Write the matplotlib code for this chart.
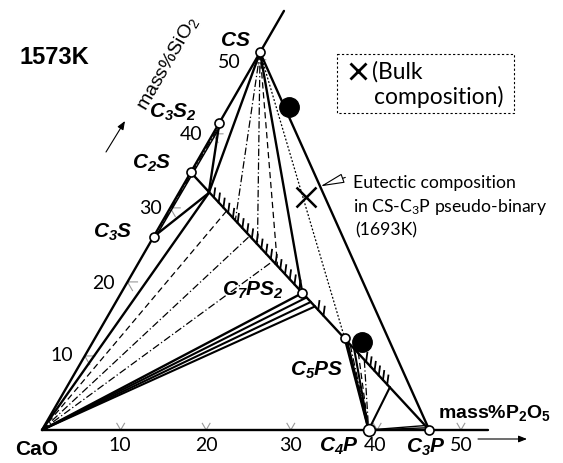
import numpy as np
import matplotlib
matplotlib.use("Agg")
import matplotlib.pyplot as plt
from matplotlib.patches import Rectangle

plt.rcParams['mathtext.fontset'] = 'custom'
plt.rcParams['mathtext.it'] = 'Liberation Sans:italic:bold'
plt.rcParams['mathtext.rm'] = 'Liberation Sans:italic:bold'
plt.rcParams['mathtext.bf'] = 'Liberation Sans:bold'
plt.rcParams['mathtext.tt'] = 'Liberation Sans'
plt.rcParams['mathtext.sf'] = 'Lato'

# ---------------- data: compositions (mass% P2O5, mass% SiO2) ----------------
compound_names = ['CaO', 'C3S', 'C2S', 'C3S2', 'CS', 'C7PS2', 'C5PS', 'C4P', 'C3P']
compound_P = [0.0, 0.0, 0.0, 0.0, 0.0, 21.2, 29.2, 38.2, 45.3]
compound_S = [0.0, 26.1, 34.8, 41.5, 51.0, 18.5, 12.4, 0.0, 0.0]
open_circles = ['C3S', 'C2S', 'C3S2', 'CS', 'C7PS2', 'C5PS', 'C4P', 'C3P']

# invariant point on the C2S-C3P solid solution line
A_point = (3.5, 32.0)

# tie lines: CS -> solid solution (P, S end points)
cs_tie_P = [8.5, 12.7, 16.5]
cs_tie_S = [28.2, 25.0, 22.1]
cs_tie_style = ['dashdot', 'dashdot', 'dashed']

# tie lines: CaO -> solid solution
cao_tie_P = [6.8, 11.2, 15.6]
cao_tie_S = [29.6, 26.2, 22.8]
cao_tie_style = ['dashed', 'dashdot', 'dashdot']

# bundle CaO -> just below C7PS2
bundle_P = [22.0, 22.8, 23.6]
bundle_S = [17.9, 17.3, 16.7]

# C4P fan -> solid solution
c4p_fan_P = [29.7, 30.3, 31.0, 31.8, 33.0, 37.8]
c4p_fan_S = [12.0, 11.5, 11.0, 10.4, 9.4, 5.8]
c4p_fan_style = ['solid', 'dashdot', 'solid', 'dashed', 'dashdot', 'solid']

# thin C4P -> near C3P wedge
wedge_P = [44.9, 44.5]
wedge_S = [0.3, 0.6]

# hatch ranges on the solid solution line (P start, P end, count)
hatch_ranges = [(4.4, 20.6, 19), (24.2, 25.2, 2), (33.3, 37.3, 6)]

# special points
bulk_comp = (15.1, 31.5)
dots_P = [7.1, 31.5]
dots_S = [43.6, 11.9]
eutectic = (16.1, 32.9)

# axis ticks
sio2_ticks = [10, 20, 30, 40, 50]
p2o5_tick_pos = [9.2, 19.2, 29.1, 39.2, 49.0]
p2o5_tick_labels = ['10', '20', '30', '40', '50']
sio2_axis_end = 56.6
p2o5_axis_end = 52.2

# ---------------- geometry ----------------
K = 8.55
X0, Y0 = 42.0, 431.0
R3 = np.sqrt(3) / 2


def tern(P, S):
    P = np.asarray(P, float)
    S = np.asarray(S, float)
    return X0 + K * (P + S / 2.0), Y0 - K * S * R3


comp = {n: (p, s) for n, p, s in zip(compound_names, compound_P, compound_S)}

fig = plt.figure(figsize=(5.63, 4.64), dpi=100)
ax = fig.add_axes([0, 0, 1, 1])
ax.set_xlim(0, 563)
ax.set_ylim(464, 0)
ax.axis('off')

LW = 1.7
TH = 0.9


def seg(p1, p2, ls='solid', lw=LW, color='black', z=2):
    x, y = tern([p1[0], p2[0]], [p1[1], p2[1]])
    ax.plot(x, y, color=color, lw=lw, ls=ls, zorder=z, solid_capstyle='round')


dash_map = {'dashdot': (0, (6, 2, 1, 2)), 'dashed': (0, (5, 3)), 'solid': 'solid', 'dotted': (0, (1.5, 1.5))}

# axes lines
seg((0, 0), (0, sio2_axis_end))
seg((0, 0), (p2o5_axis_end, 0))

# CS - C3P
seg(comp['CS'], comp['C3P'])
# solid solution line C2S - C3P
seg(comp['C2S'], comp['C3P'])
# lines to A
seg(comp['C3S2'], A_point)
seg(comp['C3S'], A_point)
seg(comp['CS'], A_point)
seg(comp['CaO'], A_point)
seg(comp['CS'], comp['C7PS2'])
seg(comp['CaO'], comp['C7PS2'])
# thin lines along the C3S2 - C3S edge
seg((0.35, 41.3), (0.25, 26.3), lw=1.1)
seg((0.2, 40.5), (0.15, 27.5), ls=dash_map['dashdot'], lw=TH)

# CS tie lines
for p, s, st in zip(cs_tie_P, cs_tie_S, cs_tie_style):
    seg(comp['CS'], (p, s), ls=dash_map[st], lw=TH)
# CS - C5PS dotted
seg(comp['CS'], comp['C5PS'], ls=dash_map['dotted'], lw=TH)

# CaO tie lines
for p, s, st in zip(cao_tie_P, cao_tie_S, cao_tie_style):
    seg(comp['CaO'], (p, s), ls=dash_map[st], lw=TH)
for p, s in zip(bundle_P, bundle_S):
    seg(comp['CaO'], (p, s), lw=1.5)

# C4P fan
seg(comp['C5PS'], comp['C4P'])
for p, s, st in zip(c4p_fan_P, c4p_fan_S, c4p_fan_style):
    seg((p, s), comp['C4P'], ls=dash_map[st], lw=(1.5 if st == 'solid' else TH))
for p, s in zip(wedge_P, wedge_S):
    seg(comp['C4P'], (p, s), lw=1.0)

# hatching on the solid solution line
c2s, c3p = comp['C2S'], comp['C3P']
for p0, p1, n in hatch_ranges:
    for p in np.linspace(p0, p1, n):
        s = c2s[1] * (1 - p / c3p[0])
        x, y = tern(p, s)
        ax.plot([x, x + 1.2], [y, y - 9.0], color='black', lw=1.3, zorder=2)

# axis tick marks (ternary grid stubs)
tick_len = 1.17
for s in sio2_ticks:
    x0, y0 = tern(0, s)
    x1, y1 = tern(tick_len, s)
    x2, y2 = tern(tick_len, s - tick_len)
    ax.plot([x1, x0, x2], [y1, y0, y2], color='#999999', lw=0.8, zorder=1)
for p in p2o5_tick_pos:
    x0, y0 = tern(p, 0)
    x1, y1 = tern(p, 0.9)
    x2, y2 = tern(p - 0.9, 0.9)
    ax.plot([x1, x0, x2], [y1, y0, y2], color='#999999', lw=0.8, zorder=1)

# open circles for compounds
for n in open_circles:
    x, y = tern(*comp[n])
    ms = 8.5 if n == 'C4P' else 6.5
    ax.plot(x, y, 'o', ms=ms, mfc='white', mec='black', mew=1.2, zorder=5)

# black dots
dx, dy = tern(dots_P, dots_S)
ax.plot(dx, dy, 'o', ms=14, color='black', zorder=5)

# bulk composition cross
bx, by = tern(*bulk_comp)
ax.plot(bx, by, 'x', ms=14, mew=1.8, color='black', zorder=5)

# eutectic arrow
ex, ey = tern(*eutectic)
ax.annotate('', xy=(ex, ey), xytext=(ex + 25, ey - 9),
            arrowprops=dict(arrowstyle='-|>,head_length=1.5,head_width=0.3',
                            fc='white', ec='black', lw=0.8, shrinkA=0, shrinkB=0),
            zorder=6)

# ---------------- text ----------------
lab_font = 'Lato'
ax.text(54, 57, '1573K', fontsize=17, fontweight='bold', family='Liberation Sans',
        ha='center', va='center')
ax.text(168, 63, r'$\mathtt{mass\%SiO_2}$', fontsize=14, rotation=60,
        ha='center', va='center')
ax.annotate('', xy=(125, 122), xytext=(106, 153),
            arrowprops=dict(arrowstyle='-|>,head_length=0.5,head_width=0.2',
                            fc='black', lw=0.8, shrinkA=0, shrinkB=0))
ax.text(495, 413, r'$\mathbf{mass\%P_2O_5}$', fontsize=14, ha='center', va='center')
ax.annotate('', xy=(527, 440), xytext=(478, 440),
            arrowprops=dict(arrowstyle='-|>,head_length=0.5,head_width=0.2',
                            fc='black', lw=0.8, shrinkA=0, shrinkB=0))
ax.text(37, 450, 'CaO', fontsize=15, fontweight='bold', family='Liberation Sans',
        ha='center', va='center')

comp_labels = {
    'CS': (235, 40, r'$CS$'),
    'C3S2': (173, 112, r'$C_3S_2$'),
    'C2S': (152, 163, r'$C_2S$'),
    'C3S': (113, 232, r'$C_3S$'),
    'C7PS2': (253, 290, r'$C_7PS_2$'),
    'C5PS': (317, 370, r'$C_5PS$'),
    'C4P': (339, 446, r'$C_4P$'),
    'C3P': (426, 447, r'$C_3P$'),
}
for k, (x, y, t) in comp_labels.items():
    ax.text(x, y, t, fontsize=15, ha='center', va='center')

# SiO2 tick labels
sio2_label_pos = [(62, 356), (103, 284), (150, 209), (191, 135), (229, 62)]
for s, (x, y) in zip(sio2_ticks, sio2_label_pos):
    ax.text(x, y, str(s), fontsize=14, family=lab_font, ha='center', va='center')
p2o5_label_x = [120, 206, 290, 375, 461]
for t, x in zip(p2o5_tick_labels, p2o5_label_x):
    ax.text(x, 446, t, fontsize=14, family=lab_font, ha='center', va='center')

# legend box
ax.add_patch(Rectangle((337, 55), 177, 59, fill=False, ls=(0, (2, 2)), lw=0.8, ec='black'))
ax.plot(358, 72, 'x', ms=11, mew=2, color='black')
ax.text(372, 72, '(Bulk', fontsize=16.5, family=lab_font, ha='left', va='center')
ax.text(374, 97, 'composition)', fontsize=16.5, family=lab_font, ha='left', va='center')

# eutectic text
ax.text(353, 183, 'Eutectic composition', fontsize=12.7, family=lab_font, ha='left', va='center')
ax.text(353, 207, r'in CS-C$\mathsf{_3}$P pseudo-binary', fontsize=12.7, family=lab_font,
        ha='left', va='center')
ax.text(355, 230, '(1693K)', fontsize=12.7, family=lab_font, ha='left', va='center')

fig.savefig('out.png', dpi=100)
